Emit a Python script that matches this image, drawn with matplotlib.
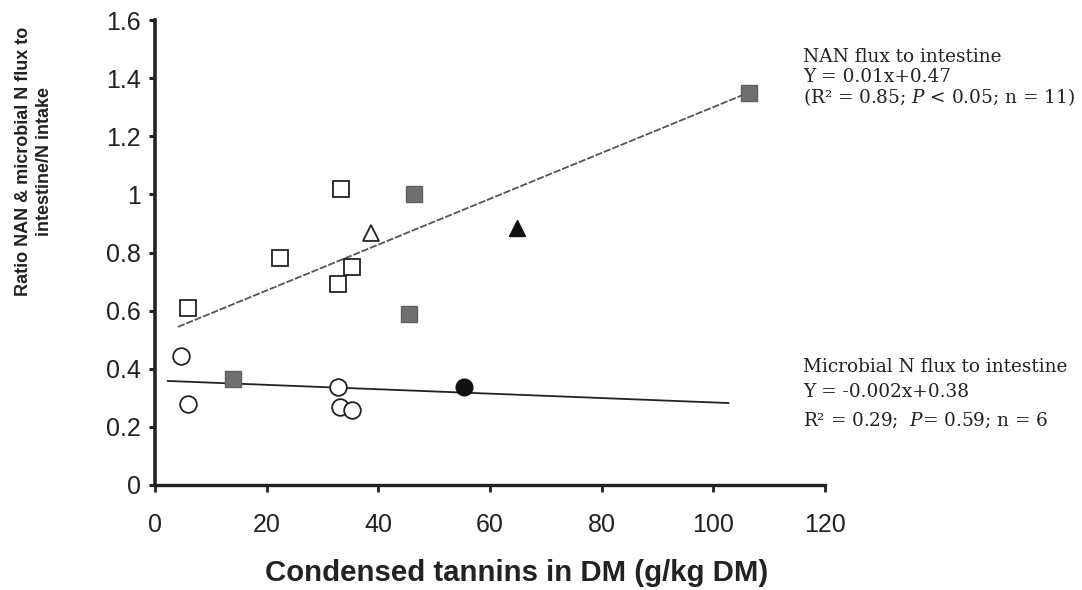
import matplotlib
matplotlib.use("Agg")
import matplotlib.pyplot as plt

# ---- data ----
open_sq_x = [5.9, 22.4, 33.3, 32.8, 35.3]
open_sq_y = [0.61, 0.78, 1.02, 0.69, 0.75]
grey_sq_x = [14.0, 46.4, 45.5, 106.3]
grey_sq_y = [0.365, 1.00, 0.59, 1.35]
open_tri_x = [38.7]
open_tri_y = [0.867]
fill_tri_x = [64.9]
fill_tri_y = [0.884]
open_circ_x = [4.7, 5.9, 32.8, 33.2, 35.3]
open_circ_y = [0.444, 0.279, 0.337, 0.268, 0.258]
fill_circ_x = [55.4]
fill_circ_y = [0.337]

nan_line_x = [4.1, 106.3]
nan_line_y = [0.544, 1.35]
mic_line_x = [2.3, 102.7]
mic_line_y = [0.358, 0.282]

x_ticks = [0, 20, 40, 60, 80, 100, 120]
y_ticks = [0, 0.2, 0.4, 0.6, 0.8, 1.0, 1.2, 1.4, 1.6]
y_ticklabels = ["0", "0.2", "0.4", "0.6", "0.8", "1", "1.2", "1.4", "1.6"]

nan_text = ["NAN flux to intestine", "Y = 0.01x+0.47",
            "(R² = 0.85; $\\mathit{P}$ < 0.05; n = 11)"]
mic_text = ["Microbial N flux to intestine", "Y = -0.002x+0.38",
            "R² = 0.29;  $\\mathit{P}$= 0.59; n = 6"]

plt.rcParams['font.family'] = ['Liberation Sans', 'DejaVu Sans']
plt.rcParams['mathtext.fontset'] = 'custom'
plt.rcParams['mathtext.rm'] = 'DejaVu Serif'
plt.rcParams['mathtext.it'] = 'DejaVu Serif:italic'

W, H = 1082, 590
fig = plt.figure(figsize=(W / 100, H / 100), dpi=100)
ax = fig.add_axes([155 / W, 1 - 485 / H, (825 - 155) / W, (485 - 20) / H])

ax.plot(nan_line_x, nan_line_y, color='#555555', lw=1.3, ls=(0, (4, 1)), zorder=1)
ax.plot(mic_line_x, mic_line_y, color='#222222', lw=1.3, zorder=1)

ax.plot(open_sq_x, open_sq_y, ls='none', marker='s', ms=11, mfc='white', mec='#222222', mew=1.3, zorder=3)
ax.plot(grey_sq_x, grey_sq_y, ls='none', marker='s', ms=11, mfc='#707070', mec='#606060', mew=1.0, zorder=3)
ax.plot(open_tri_x, open_tri_y, ls='none', marker='^', ms=12, mfc='white', mec='#222222', mew=1.3, zorder=3)
ax.plot(fill_tri_x, fill_tri_y, ls='none', marker='^', ms=12, mfc='#111111', mec='#111111', zorder=3)
ax.plot(open_circ_x, open_circ_y, ls='none', marker='o', ms=12, mfc='white', mec='#222222', mew=1.3, zorder=3)
ax.plot(fill_circ_x, fill_circ_y, ls='none', marker='o', ms=12, mfc='#111111', mec='#111111', zorder=3)

ax.set_xlim(0, 120)
ax.set_ylim(0, 1.6)
ax.set_xticks(x_ticks)
ax.set_yticks(y_ticks)
ax.set_yticklabels(y_ticklabels)

for s in ['top', 'right']:
    ax.spines[s].set_visible(False)
ax.spines['left'].set_linewidth(2.6)
ax.spines['bottom'].set_linewidth(2.4)
ax.spines['left'].set_color('#222222')
ax.spines['bottom'].set_color('#222222')

ax.tick_params(axis='y', direction='out', length=4, width=2.2, pad=6,
               labelsize=18, colors='#222222')
ax.tick_params(axis='x', direction='out', length=5, width=2.0, pad=15,
               labelsize=18, colors='#222222')

fig.text(517 / W, 1 - 573 / H, "Condensed tannins in DM (g/kg DM)",
         ha='center', va='center', fontsize=21.2, fontweight='bold', color='#222222')
fig.text(34 / W, 1 - 161 / H, "Ratio NAN & microbial N flux to\nintestine/N intake",
         ha='center', va='center', rotation=90, fontsize=13, fontweight='bold',
         color='#222222', multialignment='center', linespacing=1.35)

for t, yy in zip(nan_text, [57, 77, 97]):
    fig.text(803 / W, 1 - yy / H, t, ha='left', va='center', fontsize=13.3,
             family='DejaVu Serif', color='#222222')
for t, yy in zip(mic_text, [367, 392, 420]):
    fig.text(803 / W, 1 - yy / H, t, ha='left', va='center', fontsize=13.3,
             family='DejaVu Serif', color='#222222')

fig.savefig("out.png", dpi=100, facecolor='white')
